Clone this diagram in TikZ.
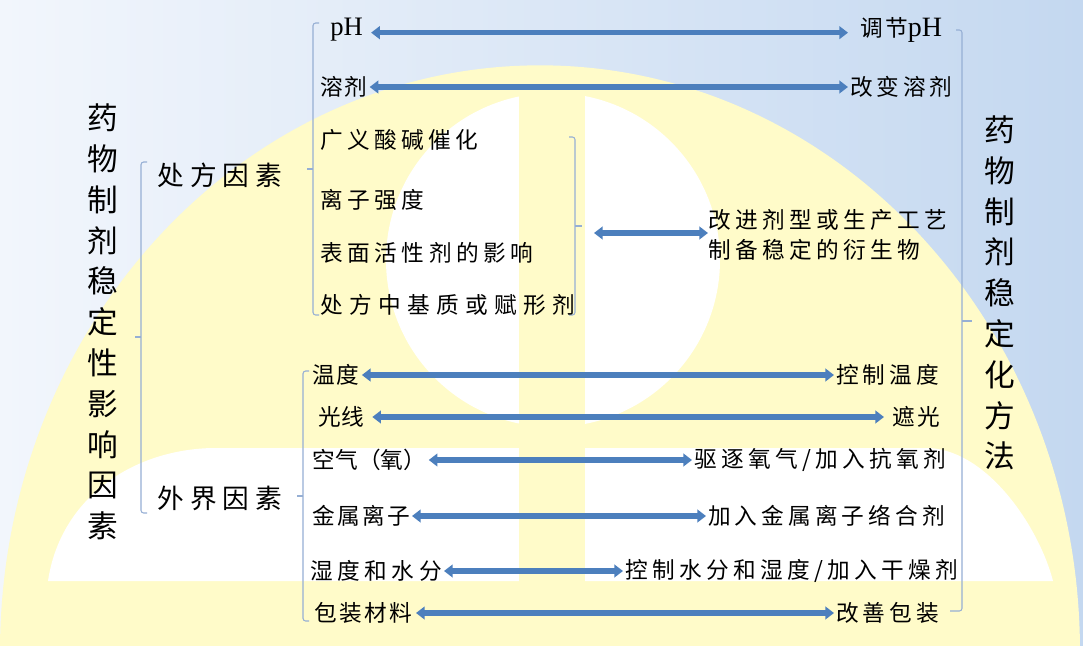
\documentclass[tikz,border=0pt]{standalone}
\usepackage{fontspec}
\setmainfont{Noto Sans CJK SC}
\newfontfamily\lat{Liberation Serif}
\usetikzlibrary{arrows.meta}
\definecolor{dome}{RGB}{255,251,201}
\definecolor{bgL}{RGB}{242,246,252}
\definecolor{bgR}{RGB}{196,216,240}
\definecolor{arr}{RGB}{76,127,189}
\definecolor{brk}{RGB}{150,175,212}
\begin{document}
\begin{tikzpicture}[x=0.75pt,y=-0.75pt,
  item/.style={anchor=west, inner xsep=1.5pt, inner ysep=0pt, text=black,
    font=\fontsize{17}{21}\selectfont\addfontfeature{LetterSpace=#1}},
  item/.default=8,
  head/.style={anchor=west, inner sep=0pt, text=black,
    font=\fontsize{20}{24}\selectfont\addfontfeature{LetterSpace=23}},
  title/.style={align=center, inner sep=0pt, text=black,
    font=\fontsize{23}{30.6}\selectfont},
  dbl/.style={draw=arr, line width=3.9pt,
    {Triangle[width=9.5pt,length=6.5pt]}-{Triangle[width=9.5pt,length=6.5pt]}},
  brk/.style={draw=brk, line width=0.8pt, rounded corners=2pt}]
\useasboundingbox (0,0) rectangle (1083,646);
\clip (0,0) rectangle (1083,646);
% background
\shade[left color=bgL, right color=bgR] (0,0) rectangle (1083,646);
\fill[dome] (540,652) ellipse [x radius=405pt, y radius=440pt];
\fill[white] (553,260) circle [radius=125.25pt];
\fill[white] (48,581) .. controls (60,500) and (130,450) .. (212,448) -- (930,448)
  .. controls (990,452) and (1040,530) .. (1053,581) -- cycle;
\fill[dome] (519,88) rectangle (585,646);

% titles
\node[title] (tl) at (103,322) {药\\物\\制\\剂\\稳\\定\\性\\影\\响\\因\\素};
\node[title] (tr) at (1000,293) {药\\物\\制\\剂\\稳\\定\\化\\方\\法};
\node[head] (rx) at (157,175) {处方因素};
\node[head] (ext) at (157,498) {外界因素};

% brackets
\draw[brk] (147,162) -- (141,162) -- (141,513) -- (147,513);
\draw[brk] (141,337) -- (135,337);
\draw[brk] (319,23) -- (313,23) -- (313,315) -- (319,315);
\draw[brk] (313,169) -- (307,169);
\draw[brk] (309,371) -- (303,371) -- (303,621) -- (309,621);
\draw[brk] (303,496) -- (297,496);
\draw[brk] (569,137) -- (575,137) -- (575,315) -- (569,315);
\draw[brk] (575,226) -- (582,226);
\draw[brk] (956,30) -- (962,30) -- (962,611) -- (950,611);
\draw[brk] (962,321) -- (972,321);

% prescription factors
\node[inner xsep=6pt, inner ysep=0pt, anchor=west, text=black, font=\fontsize{20}{24}\selectfont\lat] (ph) at (322,30) {pH};
\node[item=10, inner xsep=9pt] (tph) at (848,30) {调节{\fontsize{21}{24}\lat pH}};
\node[item=8] (sol) at (318,87) {溶剂};
\node[item=17] (csol) at (848,87) {改变溶剂};
\node[item=19] (acid) at (318,140) {广义酸碱催化};
\node[item=20] (ion) at (318,200) {离子强度};
\node[item=20] (surf) at (318,253) {表面活性剂的影响};
\node[item=28] (exc) at (318,305) {处方中基质或赋形剂};
\node[anchor=west, inner sep=0pt, align=left, text=black,
  font=\fontsize{17}{22.5}\selectfont\addfontfeature{LetterSpace=19}] (impr) at (708,235)
  {改进剂型或生产工艺\\制备稳定的衍生物};

% environment factors
\node[item=9] (temp) at (310,375) {温度};
\node[item=18] (ctemp) at (834,375) {控制温度};
\node[item=2, inner xsep=6pt] (light) at (310,417) {光线};
\node[item=12, inner xsep=6pt] (shade) at (884,417) {遮光};
\node[item=1] (air) at (310,460) {空气（氧）};
\node[item=19] (cair) at (692,460) {驱逐氧气/加入抗氧剂};
\node[item=10] (metal) at (310,516) {金属离子};
\node[item=18] (cmetal) at (706,516) {加入金属离子络合剂};
\node[item=20] (hum) at (308,571) {湿度和水分};
\node[item=19] (chum) at (623,571) {控制水分和湿度/加入干燥剂};
\node[item=10, inner xsep=3pt] (pack) at (310,613) {包装材料};
\node[item=18] (cpack) at (834,613) {改善包装};

% arrows
\draw[dbl] ([yshift=-2pt]ph.east) -- ([yshift=-2pt]tph.west);
\draw[dbl] (sol) -- (csol);
\coordinate (mstart) at (594,233);
\draw[dbl] (mstart) -- (mstart -| impr.west);
\draw[dbl] (temp) -- (ctemp);
\draw[dbl] (light) -- (shade);
\draw[dbl] (air) -- (cair);
\draw[dbl] (metal) -- (cmetal);
\draw[dbl] (hum) -- (chum);
\draw[dbl] (pack) -- (cpack);
\end{tikzpicture}
\end{document}
